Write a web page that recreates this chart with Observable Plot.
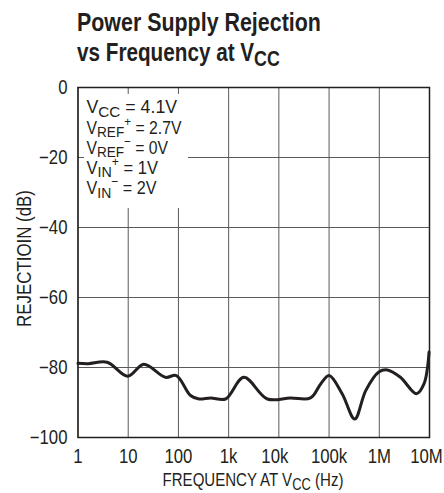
<!DOCTYPE html>
<html>
<head>
<meta charset="utf-8">
<script src="https://cdn.jsdelivr.net/npm/d3@7"></script>
<script src="https://cdn.jsdelivr.net/npm/@observablehq/plot@0.6"></script>
<style>
  html, body { margin: 0; padding: 0; background: #fff; }
  #chart { width: 444px; height: 493px; }
</style>
</head>
<body>
<div id="chart"></div>
<script>
// ---- data ----
const freq = [1, 1.6, 3.8, 9.8, 20.4, 55, 91, 174, 257, 437, 870, 2000, 5900, 17000, 42700, 68000, 100000, 182000, 324000, 537000, 977000, 1450000, 2630000, 5500000, 7760000, 9800000];
const rejection = [-78.8, -78.9, -78.5, -82.5, -79.1, -82.8, -82.3, -88, -89, -88.7, -89, -82.8, -89, -88.7, -88.7, -84.7, -82.3, -87.5, -94.7, -86.6, -81.3, -80.7, -82.8, -87.5, -84.7, -75.6];
const xTicks = [1, 10, 100, 1e3, 1e4, 1e5, 1e6, 1e7];
const xTickLabels = ["1", "10", "100", "1k", "10k", "100k", "1M", "10M"];
const yTicks = [-100, -80, -60, -40, -20, 0];

const FONT = "'Liberation Sans', Arial, Helvetica, sans-serif";
const INK = "#231f20";

const points = freq.map((f, i) => ({f, db: rejection[i]}));
const xFmt = new Map(xTicks.map((v, i) => [v, xTickLabels[i]]));

const chart = Plot.plot({
  width: 444,
  height: 493,
  marginTop: 87,
  marginBottom: 56,
  marginLeft: 77.5,
  marginRight: 15,
  x: {type: "log", domain: [1, 1e7]},
  y: {domain: [-100, 0]},
  style: {fontFamily: FONT, fontSize: "19.5px", color: INK, background: "#fff"},
  marks: [
    Plot.ruleX(xTicks, {stroke: "#5a5a5a", strokeWidth: 1}),
    Plot.ruleY(yTicks, {stroke: "#5a5a5a", strokeWidth: 1}),
    Plot.line(points, {x: "f", y: "db", curve: "catmull-rom", stroke: INK, strokeWidth: 3}),
    Plot.frame({stroke: INK, strokeWidth: 1.5}),
    Plot.axisX(xTicks, {tickFormat: d => xFmt.get(d), tickSize: 0, tickPadding: 12, label: null, fontSize: 19.5}),
    Plot.axisY(yTicks, {tickSize: 0, tickPadding: 10.5, label: null, fontSize: 19.5})
  ]
});
document.getElementById("chart").appendChild(chart);

const svg = d3.select(chart);

// condense tick labels (narrow face look) by horizontal scaling about each label's anchor
svg.selectAll('g[aria-label="x-axis tick label"] text, g[aria-label="y-axis tick label"] text').each(function () {
  const s = this.textContent;
  let tr = this.getAttribute("transform") || "";
  if (s === "10k") tr += " translate(-4,0)";
  if (s === "10M") tr += " translate(-3,0)";
  this.setAttribute("transform", tr + " scale(0.86,1)");
});

// ---- annotations (rich text with sub/superscripts) ----
function rich(x, y, parts, opts = {}) {
  const size = opts.size || 18;
  const t = svg.append("text")
    .attr("x", 0).attr("y", 0)
    .attr("font-family", FONT)
    .attr("font-size", size)
    .attr("font-weight", opts.weight || "normal")
    .attr("fill", INK)
    .attr("text-anchor", opts.anchor || "start");
  let offset = 0;
  for (const [str, kind] of parts) {
    let target = 0, fs = size;
    if (kind === "sub") { target = size * 0.2; fs = size * 0.86; }
    if (kind === "sup") { target = -size * 0.45; fs = size * 0.74; }
    const s = t.append("tspan").text(str).attr("font-size", fs);
    const dy = target - offset;
    if (dy !== 0) s.attr("dy", dy);
    offset = target;
  }
  let sx = 1;
  if (opts.length) {
    const natural = t.node().getComputedTextLength();
    if (natural > 0) sx = opts.length / natural;
  }
  t.attr("transform", `translate(${x},${y})${opts.rotate ? ` rotate(${opts.rotate})` : ""} scale(${sx.toFixed(4)},1)`);
  return t;
}

// title
rich(77, 31, [["Power Supply Rejection"]], {size: 25, weight: "bold", length: 244});
rich(77, 61, [["vs Frequency at V"], ["CC", "sub"]], {size: 25, weight: "bold", length: 203});

// legend background box
svg.append("rect").attr("x", 84).attr("y", 94).attr("width", 104).attr("height", 114).attr("fill", "#fff");

const legendWidths = [90.6, 95, 81.6, 71.6, 70];
const legend = [
  [["V"], ["CC", "sub"], [" = 4.1V"]],
  [["V"], ["REF", "sub"], ["+", "sup"], [" = 2.7V"]],
  [["V"], ["REF", "sub"], ["\u2212", "sup"], [" = 0V"]],
  [["V"], ["IN", "sub"], ["+", "sup"], [" = 1V"]],
  [["V"], ["IN", "sub"], ["\u2212", "sup"], [" = 2V"]]
];
legend.forEach((parts, i) => rich(86.5, 113.3 + i * 20.2, parts, {size: 17.7, length: legendWidths[i]}));

// axis labels
rich(253, 486, [["FREQUENCY AT V"], ["CC", "sub"], [" (Hz)"]], {size: 18.5, anchor: "middle", length: 181});
rich(31, 258.5, [["REJECTIOIN (dB)"]], {size: 20.5, anchor: "middle", length: 137, rotate: -90});
</script>
</body>
</html>
